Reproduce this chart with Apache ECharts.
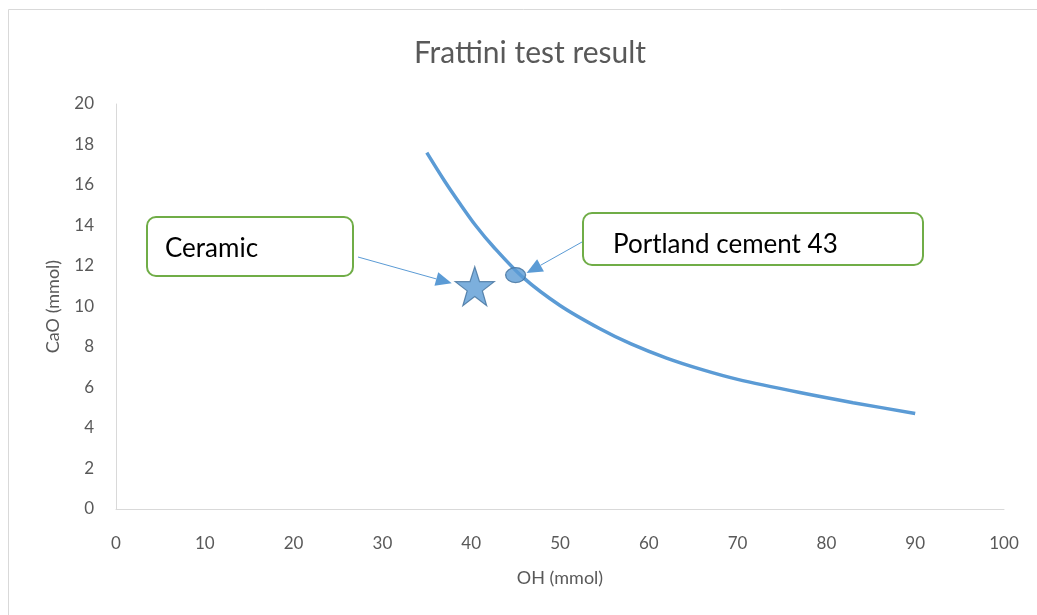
<!DOCTYPE html>
<html>
<head>
<meta charset="utf-8">
<script src="https://cdn.jsdelivr.net/npm/echarts@6/dist/echarts.min.js"></script>
<style>
html,body{margin:0;padding:0;background:#fff;}
#chart{width:1037px;height:615px;}
</style>
</head>
<body>
<div id="chart"></div>
<script>
// Data
var titleText = 'Frattini test result';
var xAxisName = 'OH (mmol)';
var yAxisName = 'CaO (mmol)';
var curveX = [35.0, 37.0, 38.7, 40.5, 42.5, 45.8, 50.0, 54.5, 58.0, 62.0, 66.0, 70.0, 77.0, 83.0, 90.0];
var curveY = [17.6, 16.2, 15.1, 14.0, 12.95, 11.45, 10.05, 8.9, 8.15, 7.45, 6.88, 6.4, 5.75, 5.25, 4.72];
var ceramicPoint = [40.4, 11.0];
var portlandPoint = [45.0, 11.55];
var ceramicLabel = 'Ceramic';
var portlandLabel = 'Portland cement 43';

var FONT = 'Lato, "Open Sans", sans-serif';
var BLUE = '#5b9bd5';
var BLUE_DARK = '#41719c';
var GREEN = '#70ad47';

var curveData = curveX.map(function (x, i) { return [x, curveY[i]]; });

var chart = echarts.init(document.getElementById('chart'), null, {renderer: 'canvas'});

var starPath = 'path://M50,0 L61.8,35.3 L98.1,35.3 L68.8,57.1 L79.4,92.4 L50,70.6 L20.6,92.4 L31.2,57.1 L1.9,35.3 L38.2,35.3 Z';

var option = {
  animation: false,
  backgroundColor: '#ffffff',
  title: {
    text: titleText,
    left: 525,
    textAlign: 'center',
    top: 33,
    textStyle: {fontFamily: FONT, fontSize: 30, fontWeight: 'normal', color: '#595959'}
  },
  grid: {left: 116, right: 33, top: 104, bottom: 106, containLabel: false},
  xAxis: {
    type: 'value', min: 0, max: 100, interval: 10,
    name: xAxisName, nameLocation: 'middle', nameGap: 60,
    nameTextStyle: {fontFamily: FONT, fontSize: 18, color: '#595959'},
    axisLine: {show: true, lineStyle: {color: '#d9d9d9', width: 1}},
    axisTick: {show: false},
    splitLine: {show: false},
    axisLabel: {margin: 26, fontFamily: FONT, fontSize: 17, color: '#595959'}
  },
  yAxis: {
    type: 'value', min: 0, max: 20, interval: 2,
    name: yAxisName, nameLocation: 'middle', nameGap: 54, nameRotate: 90,
    nameTextStyle: {fontFamily: FONT, fontSize: 18, color: '#595959'},
    axisLine: {show: true, lineStyle: {color: '#d9d9d9', width: 1}},
    axisTick: {show: false},
    splitLine: {show: false},
    axisLabel: {margin: 22, fontFamily: FONT, fontSize: 17, color: '#595959'}
  },
  series: [
    {
      type: 'line', data: curveData, smooth: 0.3, showSymbol: false,
      lineStyle: {color: BLUE, width: 3.5}, silent: true
    },
    {
      type: 'scatter', data: [ceramicPoint], symbol: starPath, symbolSize: [39, 39],
      itemStyle: {color: BLUE, borderColor: BLUE_DARK, borderWidth: 1.2}
    },
    {
      type: 'scatter', data: [portlandPoint], symbol: 'circle', symbolSize: [20, 15],
      itemStyle: {color: BLUE, borderColor: BLUE_DARK, borderWidth: 1.2}, z: 3
    }
  ]
};
chart.setOption(option);

function arrow(from, to) {
  var dx = to[0] - from[0], dy = to[1] - from[1];
  var len = Math.sqrt(dx * dx + dy * dy);
  var ux = dx / len, uy = dy / len;
  var hl = 16, hw = 7;
  var bx = to[0] - ux * hl, by = to[1] - uy * hl;
  return [
    {type: 'line', shape: {x1: from[0], y1: from[1], x2: bx, y2: by},
     style: {stroke: BLUE, lineWidth: 1}, z: 10},
    {type: 'polygon', shape: {points: [to, [bx - uy * hw, by + ux * hw], [bx + uy * hw, by - ux * hw]]},
     style: {fill: BLUE, stroke: null}, z: 10}
  ];
}

var pc = chart.convertToPixel({gridIndex: 0}, ceramicPoint);
var pp = chart.convertToPixel({gridIndex: 0}, portlandPoint);

var graphics = [
  {type: 'rect', shape: {x: 8.5, y: 9.5, width: 1040, height: 620}, style: {fill: null, stroke: '#d9d9d9', lineWidth: 1}, z: 0, silent: true},
  {type: 'rect', shape: {x: 147, y: 217, width: 206, height: 59, r: 9},
   style: {fill: '#ffffff', stroke: GREEN, lineWidth: 2}, z: 20},
  {type: 'text', x: 165, y: 249, style: {text: ceramicLabel, fontFamily: FONT, fontSize: 26, fill: '#000000', verticalAlign: 'middle'}, z: 21},
  {type: 'rect', shape: {x: 583, y: 213, width: 340, height: 52, r: 9},
   style: {fill: '#ffffff', stroke: GREEN, lineWidth: 2}, z: 20},
  {type: 'text', x: 613, y: 245, style: {text: portlandLabel, fontFamily: FONT, fontSize: 26, fill: '#000000', verticalAlign: 'middle'}, z: 21}
];
graphics = graphics.concat(arrow([358, 257], [pc[0] - 23, pc[1] - 3]));
graphics = graphics.concat(arrow([582, 242], [pp[0] + 11, pp[1] - 2]));
chart.setOption({graphic: graphics});
</script>
</body>
</html>
